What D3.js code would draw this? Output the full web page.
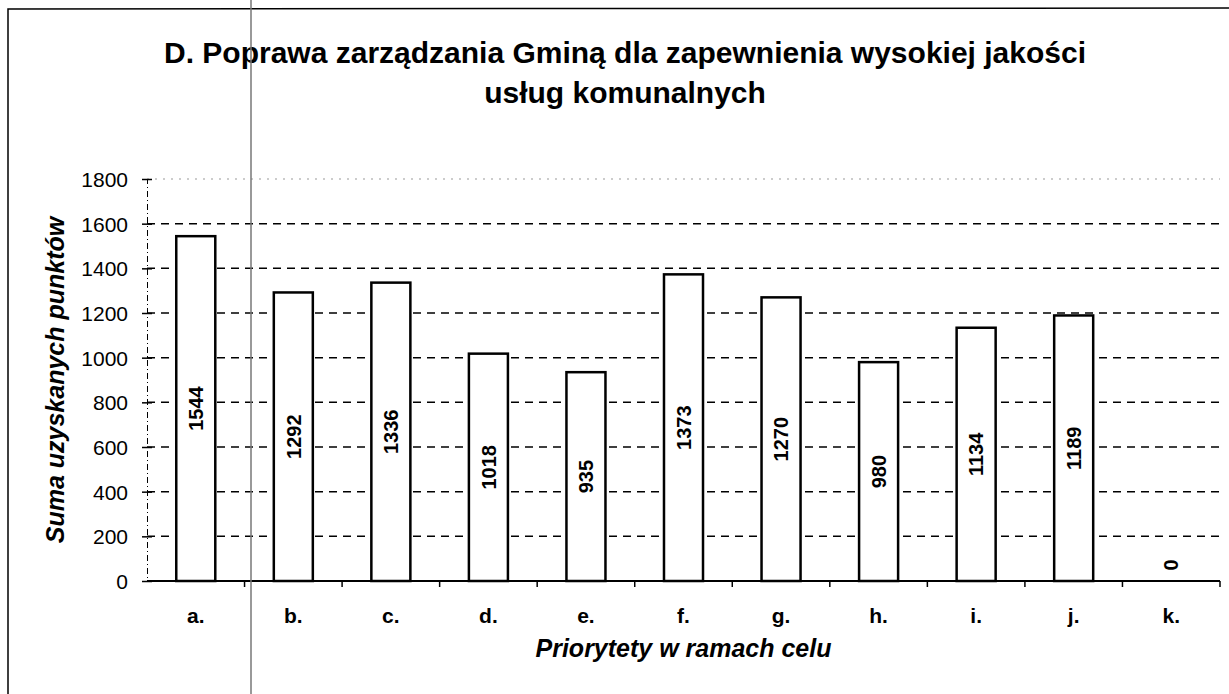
<!DOCTYPE html>
<html lang="pl">
<head>
  <meta charset="UTF-8">
  <title>Poprawa zarządzania Gminą</title>
  <script src="https://d3js.org/d3.v7.min.js"></script>
  <style>
  body { margin: 0; background: #fff; }
  text { font-family: Arial, "Liberation Sans", sans-serif; fill: #000; }
  </style>
</head>
<body>
<div id="chart"></div>
<script>

// data
const categories = ["a.", "b.", "c.", "d.", "e.", "f.", "g.", "h.", "i.", "j.", "k."];
const points = [1544, 1292, 1336, 1018, 935, 1373, 1270, 980, 1134, 1189, 0];
const yTicks = [0, 200, 400, 600, 800, 1000, 1200, 1400, 1600, 1800];

const W = 1229, H = 694;
const margin = {top: 179, right: 9, bottom: 113, left: 147};
const gw = W - margin.left - margin.right;
const gh = H - margin.top - margin.bottom;

const svg = d3.select("#chart").append("svg")
  .attr("width", W)
  .attr("height", H);

// outer frame (left + top edges visible in the scan)
svg.append("path")
  .attr("d", `M8,${H} L8,9 L${W},8`)
  .attr("fill", "none")
  .attr("stroke", "#000")
  .attr("stroke-width", 1.5);

// title
const title = svg.append("text")
  .attr("text-anchor", "middle")
  .attr("font-weight", "bold")
  .attr("font-size", 30);
title.append("tspan").attr("x", 625).attr("y", 63)
  .text("D. Poprawa zarządzania Gminą dla zapewnienia wysokiej jakości");
title.append("tspan").attr("x", 625).attr("y", 103)
  .text("usług komunalnych");

const graph = svg.append("g")
  .attr("transform", `translate(${margin.left},${margin.top})`);

const y = d3.scaleLinear().domain([0, 1800]).range([gh, 0]);
const x = d3.scaleBand().domain(categories).range([0, gw])
  .paddingInner(0.6).paddingOuter(0.3);
const xb = d3.scaleBand().domain(categories).range([0, gw]);

// gridlines
graph.append("g").selectAll("line")
  .data(yTicks.filter(d => d > 0))
  .join("line")
    .attr("x1", 0).attr("x2", gw)
    .attr("y1", d => y(d)).attr("y2", d => y(d))
    .attr("stroke", d => d === 1800 ? "#999" : "#000")
    .attr("stroke-width", d => d === 1800 ? 1 : 1.5)
    .attr("stroke-dasharray", d => d === 1800 ? "2,6" : "8,6");

// y axis
const yAxis = d3.axisLeft(y)
  .tickValues(yTicks)
  .tickFormat(d3.format("d"))
  .tickSize(5)
  .tickPadding(14);
const yg = graph.append("g").call(yAxis);
yg.select(".domain")
  .attr("stroke-dasharray", "6,3,1,3")
  .attr("stroke-width", 1);
yg.selectAll(".tick line").attr("x2", 5).attr("x1", -5).attr("stroke-width", 1.5);
yg.selectAll(".tick text")
  .attr("font-size", 21)
  .attr("font-family", "Arial, 'Liberation Sans', sans-serif")
  .attr("dy", "0.36em");

// x axis with ticks on category boundaries
const xg = graph.append("g").attr("transform", `translate(0,${gh})`);
xg.append("line")
  .attr("x1", 0).attr("x2", gw)
  .attr("stroke", "#000").attr("stroke-width", 2);
xg.selectAll(".xtick")
  .data(categories.slice(1).concat(["end"]))
  .join("line")
    .attr("class", "xtick")
    .attr("x1", (d, i) => i < categories.length - 1 ? xb(d) : gw)
    .attr("x2", (d, i) => i < categories.length - 1 ? xb(d) : gw)
    .attr("y1", 0).attr("y2", 6)
    .attr("stroke", "#000").attr("stroke-width", 1.5);
xg.selectAll(".xlab")
  .data(categories)
  .join("text")
    .attr("class", "xlab")
    .attr("x", d => xb(d) + xb.bandwidth() / 2)
    .attr("y", 42)
    .attr("text-anchor", "middle")
    .attr("font-weight", "bold")
    .attr("font-size", 21)
    .text(d => d);

// bars
graph.append("g").selectAll("rect")
  .data(points)
  .join("rect")
    .attr("x", (d, i) => x(categories[i]))
    .attr("width", x.bandwidth())
    .attr("y", d => y(d))
    .attr("height", d => gh - y(d))
    .attr("fill", "#fff")
    .attr("stroke", "#000")
    .attr("stroke-width", 2.5);

// value labels, rotated, in the middle of the bar
graph.append("g").selectAll("text")
  .data(points)
  .join("text")
    .attr("transform", (d, i) => {
      const cx = x(categories[i]) + x.bandwidth() / 2;
      const cy = Math.min(y(d / 2), gh - 16);
      return `translate(${cx},${cy}) rotate(-90)`;
    })
    .attr("text-anchor", "middle")
    .attr("dy", "0.36em")
    .attr("font-weight", "bold")
    .attr("font-size", 20)
    .text(d => d);

// axis titles
svg.append("text")
  .attr("transform", `translate(55,${margin.top + gh / 2}) rotate(-90)`)
  .attr("text-anchor", "middle")
  .attr("dy", "0.36em")
  .attr("font-weight", "bold")
  .attr("font-style", "italic")
  .attr("font-size", 25)
  .text("Suma uzyskanych punktów");

svg.append("text")
  .attr("x", margin.left + gw / 2)
  .attr("y", 657)
  .attr("text-anchor", "middle")
  .attr("font-weight", "bold")
  .attr("font-style", "italic")
  .attr("font-size", 25)
  .text("Priorytety w ramach celu");

// scan artefact: thin grey vertical line through the page
svg.append("line")
  .attr("x1", 251).attr("x2", 251)
  .attr("y1", 0).attr("y2", H)
  .attr("stroke", "#777").attr("stroke-width", 1.5);

</script>
</body>
</html>
